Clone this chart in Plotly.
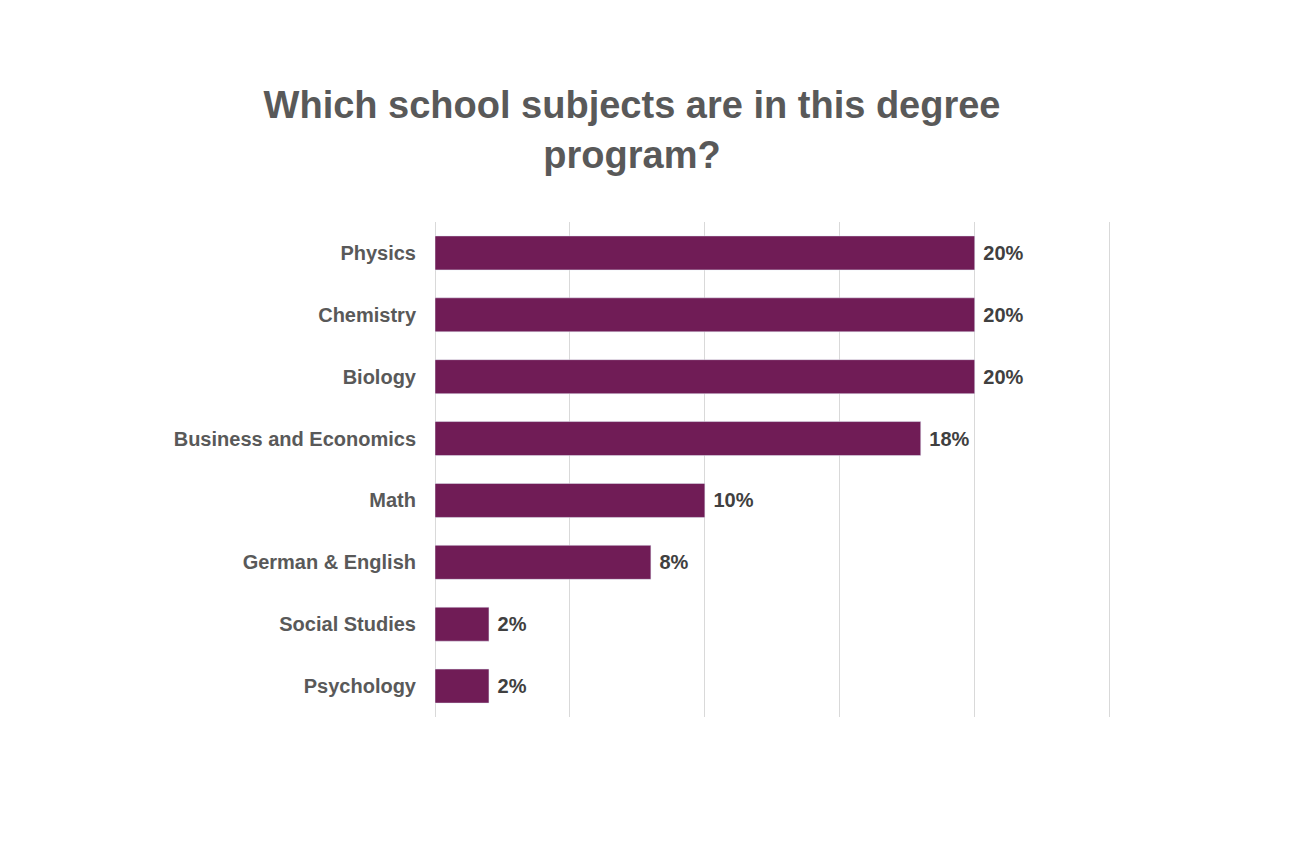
import plotly.graph_objects as go

categories = ["Physics", "Chemistry", "Biology", "Business and Economics", "Math",
              "German & English", "Social Studies", "Psychology"]
values = [20, 20, 20, 18, 10, 8, 2, 2]
labels = ["20%", "20%", "20%", "18%", "10%", "8%", "2%", "2%"]

fig = go.Figure(go.Bar(
    x=values, y=categories, orientation="h",
    marker=dict(color="#701c56"),
    text=["<b> " + t + "</b>" for t in labels], textposition="outside",
    textfont=dict(family="Liberation Sans, Arial", size=20, color="#404040"),
    cliponaxis=False,
))
fig.update_layout(
    width=1292, height=861,
    paper_bgcolor="white", plot_bgcolor="white",
    margin=dict(l=427, r=189, t=214, b=152),
    bargap=0.45,
    showlegend=False,
    title=dict(text="<b>Which school subjects are in this degree<br>program?</b>",
               x=0.483, xanchor="center", y=0.872, yanchor="top",
               font=dict(family="Liberation Sans, Arial", size=38, color="#595959")),
    font=dict(family="Liberation Sans, Arial"),
)
fig.update_xaxes(range=[0, 25.05], dtick=5, showgrid=True, gridcolor="#d9d9d9",
                 gridwidth=1, showticklabels=False, zeroline=True,
                 zerolinecolor="#d9d9d9", zerolinewidth=1, showline=False)
fig.update_yaxes(autorange="reversed", showgrid=False, ticks="", ticklabelstandoff=18,
                 tickfont=dict(family="Liberation Sans, Arial", size=20, color="#595959"),
                 tickprefix="<b>", ticksuffix="</b>")
fig.write_html("out.html")
